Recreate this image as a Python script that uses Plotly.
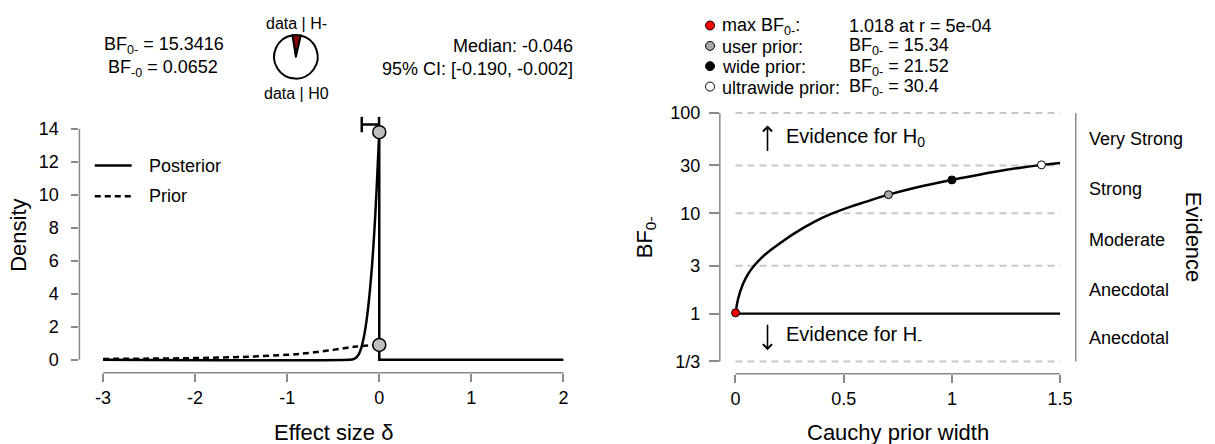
import math
import plotly.graph_objects as go

W, H = 1215, 444
FONT = "Liberation Sans"
AXC = "#8a8a8a"

# ---------------- data ----------------
# left panel: prior / posterior densities of effect size delta
prior_delta = [-3, -2.5, -2, -1.5, -1, -0.75, -0.5, -0.25, 0]
prior_density = [0.05, 0.07, 0.10, 0.17, 0.30, 0.42, 0.60, 0.80, 0.90]
post_delta = [-3, -0.32, -0.28, -0.25, -0.22, -0.2, -0.18, -0.16, -0.14, -0.12,
              -0.10, -0.08, -0.06, -0.045, -0.03, -0.015, 0, 0, 2]
post_density = [0, 0, 0.04, 0.14, 0.36, 0.64, 1.05, 1.6, 2.3, 3.2,
                4.3, 5.6, 7.2, 8.6, 10.2, 12.0, 13.8, 0, 0]
point_delta = [0, 0]
point_density = [13.8, 0.9]
ci_low, ci_high = -0.190, -0.002
ci_level = 14.26
median = -0.046
bf0m = 15.3416
bfm0 = 0.0652
left_xticks = [-3, -2, -1, 0, 1, 2]
left_xticktext = ["-3", "-2", "-1", "0", "1", "2"]
left_yticks = [0, 2, 4, 6, 8, 10, 12, 14]

# right panel: robustness check
r_vals = [0, 0.012, 0.035, 0.058, 0.089, 0.12, 0.166, 0.212, 0.274, 0.366, 0.442,
          0.519, 0.6, 0.707, 0.85, 1.0, 1.2, 1.414, 1.5]
bf_vals = [1.0, 1.40, 1.98, 2.48, 3.05, 3.6, 4.35, 5.15, 6.35, 8.25, 9.85,
           11.4, 13.0, 15.34, 18.4, 21.52, 26.0, 30.4, 31.8]
key_r = [0.0005, 0.7071, 1.0, 1.4142]
key_bf = [1.018, 15.34, 21.52, 30.4]
key_colors = ["red", "#a8a8a8", "black", "white"]
key_names = ["max BF<sub>0-</sub>:", "user prior:", "wide prior:", "ultrawide prior:"]
key_texts = ["1.018 at r = 5e-04", "BF<sub>0-</sub> = 15.34",
             "BF<sub>0-</sub> = 21.52", "BF<sub>0-</sub> = 30.4"]
bf_ticks = [1 / 3, 1, 3, 10, 30, 100]
bf_ticktext = ["1/3", "1", "3", "10", "30", "100"]
evidence_labels = ["Anecdotal", "Anecdotal", "Moderate", "Strong", "Very Strong"]
right_xticks = [0, 0.5, 1, 1.5]
right_xticktext = ["0", "0.5", "1", "1.5"]


# ---------------- layout helpers (pixel geometry) ----------------
def px(p):
    return p / W


def py(p):
    return 1 - p / H


def lin_range(p_lo, p_hi, va, pa, vb, pb):
    k = (pb - pa) / (vb - va)
    return [va + (p_lo - pa) / k, va + (p_hi - pa) / k]


# left panel geometry
LX0, LX1 = 79.6, 567.0
LY_TOP, LY_BOT = 110.0, 372.0
lx_range = lin_range(LX0, LX1, -3, 103.3, 2, 564.8)
ly_range = lin_range(LY_BOT, LY_TOP, 0, 359.0, 14, 126.0)

# right panel geometry
RX0, RX1 = 721.6, 1078.4
RY_TOP, RY_BOT = 104.0, 373.0
rx_range = lin_range(RX0, RX1, 0, 737.3, 1.5, 1062.7)
ry_range = lin_range(RY_BOT, RY_TOP, 2, 110.0, math.log10(1 / 3), 360.7)


def ry_px(v):
    k = (360.7 - 110.0) / (math.log10(1 / 3) - 2)
    return 110.0 + (math.log10(v) - 2) * k


fig = go.Figure()

# ---- left traces ----
fig.add_trace(go.Scatter(x=prior_delta, y=prior_density, mode="lines",
                         line=dict(color="black", width=2.5, dash="6px,4px", shape="spline"),
                         xaxis="x", yaxis="y", hoverinfo="skip", showlegend=False))
n_rise = len(post_delta) - 2
fig.add_trace(go.Scatter(x=post_delta[:n_rise], y=post_density[:n_rise], mode="lines",
                         line=dict(color="black", width=2.5, shape="spline", smoothing=0.6),
                         xaxis="x", yaxis="y", hoverinfo="skip", showlegend=False))
fig.add_trace(go.Scatter(x=post_delta[n_rise - 1:], y=post_density[n_rise - 1:], mode="lines",
                         line=dict(color="black", width=2.5),
                         xaxis="x", yaxis="y", hoverinfo="skip", showlegend=False))
fig.add_trace(go.Scatter(x=[ci_low, ci_high], y=[ci_level, ci_level], mode="lines+markers",
                         line=dict(color="black", width=2.5),
                         marker=dict(symbol="line-ns-open", size=11,
                                     line=dict(color="black", width=2.5)),
                         xaxis="x", yaxis="y", cliponaxis=False, hoverinfo="skip",
                         showlegend=False))
fig.add_trace(go.Scatter(x=point_delta, y=point_density, mode="markers",
                         marker=dict(size=13, color="#bfbfbf",
                                     line=dict(color="black", width=1.5)),
                         xaxis="x", yaxis="y", cliponaxis=False, hoverinfo="skip",
                         showlegend=False))

# ---- right traces ----
for v in bf_ticks:
    if v == 1:
        continue
    fig.add_trace(go.Scatter(x=[right_xticks[0], right_xticks[-1]], y=[v, v], mode="lines",
                             line=dict(color="#c8c8c8", width=2, dash="7px,5px"),
                             xaxis="x2", yaxis="y2", hoverinfo="skip", showlegend=False))
fig.add_trace(go.Scatter(x=[right_xticks[0], right_xticks[-1]], y=[1, 1], mode="lines",
                         line=dict(color="black", width=2.2),
                         xaxis="x2", yaxis="y2", hoverinfo="skip", showlegend=False))
fig.add_trace(go.Scatter(x=r_vals, y=bf_vals, mode="lines",
                         line=dict(color="black", width=2.5, shape="spline", smoothing=1.2),
                         xaxis="x2", yaxis="y2", hoverinfo="skip", showlegend=False))
fig.add_trace(go.Scatter(x=key_r, y=key_bf, mode="markers",
                         marker=dict(size=8, color=key_colors,
                                     line=dict(color="black", width=1)),
                         xaxis="x2", yaxis="y2", cliponaxis=False, hoverinfo="skip",
                         showlegend=False))

# ---- pie ----
fig.add_trace(go.Pie(values=[bfm0, 1], labels=["data | H-", "data | H0"],
                     marker=dict(colors=["#8b0000", "white"],
                                 line=dict(color="black", width=2)),
                     sort=False, direction="clockwise", rotation=-9,
                     textinfo="none", hoverinfo="skip", showlegend=False,
                     domain=dict(x=[px(274.6), px(318.6)], y=[py(75.3), py(31.3)])))

tickfont = dict(family=FONT, size=18, color="black")
common = dict(showgrid=False, zeroline=False, showline=False, ticks="outside",
              tickcolor=AXC, tickwidth=1.5, tickfont=tickfont, fixedrange=True)

layout = dict(
    width=W, height=H, margin=dict(l=0, r=0, t=0, b=0),
    paper_bgcolor="white", plot_bgcolor="white",
    xaxis=dict(domain=[px(LX0), px(LX1)], range=lx_range, anchor="y",
               tickvals=left_xticks, ticktext=left_xticktext, ticklen=8,
               ticklabelstandoff=1, **common),
    yaxis=dict(domain=[py(LY_BOT), py(LY_TOP)], range=ly_range, anchor="x",
               tickvals=left_yticks, ticklen=7, ticklabelstandoff=9, **common),
    xaxis2=dict(domain=[px(RX0), px(RX1)], range=rx_range, anchor="y2",
                tickvals=right_xticks, ticktext=right_xticktext, ticklen=8,
                ticklabelstandoff=1, **common),
    yaxis2=dict(domain=[py(RY_BOT), py(RY_TOP)], range=ry_range, type="log", anchor="x2",
                tickvals=bf_ticks, ticktext=bf_ticktext, ticklen=10,
                ticklabelstandoff=5, **common),
    yaxis3=dict(domain=[py(RY_BOT), py(RY_TOP)], range=ry_range, type="log", anchor="x2",
                overlaying="y2", side="right", tickvals=bf_ticks, showticklabels=False,
                ticklen=10, **common),
)

shapes = []
# detached axis lines (R style)
shapes.append(dict(type="line", xref="x", yref="paper", x0=left_xticks[0], x1=left_xticks[-1],
                   y0=py(LY_BOT), y1=py(LY_BOT), line=dict(color=AXC, width=1.5)))
shapes.append(dict(type="line", xref="paper", yref="y", x0=px(LX0), x1=px(LX0),
                   y0=left_yticks[0], y1=left_yticks[-1], line=dict(color=AXC, width=1.5)))
shapes.append(dict(type="line", xref="x2", yref="paper", x0=right_xticks[0], x1=right_xticks[-1],
                   y0=py(RY_BOT), y1=py(RY_BOT), line=dict(color=AXC, width=1.5)))
for xx in (RX0, RX1):
    shapes.append(dict(type="line", xref="paper", yref="paper", x0=px(xx), x1=px(xx),
                       y0=py(ry_px(bf_ticks[0])), y1=py(ry_px(bf_ticks[-1])),
                       line=dict(color=AXC, width=1.5)))
# left legend samples
shapes.append(dict(type="line", xref="paper", yref="paper", x0=px(95), x1=px(132),
                   y0=py(163), y1=py(163), line=dict(color="black", width=2.5)))
shapes.append(dict(type="line", xref="paper", yref="paper", x0=px(95), x1=px(132),
                   y0=py(194), y1=py(194), line=dict(color="black", width=2.5, dash="6px,4px")))
# right legend circles
leg_y = [21.7, 42.3, 62.7, 83.3]
for c, yy in zip(key_colors, leg_y):
    shapes.append(dict(type="circle", xref="paper", yref="paper", xsizemode="pixel",
                       ysizemode="pixel", xanchor=px(711.8), yanchor=py(yy),
                       x0=-4.5, x1=4.5, y0=-4.5, y1=4.5, fillcolor=c,
                       line=dict(color="black", width=1)))
layout["shapes"] = shapes

ann = []


def text(t, x, y, size=18, xanchor="center", yanchor="middle", angle=0):
    ann.append(dict(text=t, x=px(x), y=py(y), xref="paper", yref="paper",
                    xanchor=xanchor, yanchor=yanchor, textangle=angle, showarrow=False,
                    font=dict(family=FONT, size=size, color="black")))


# left panel texts
text(f"BF<sub>0-</sub> = {bf0m:.4f}", 164, 41.7)
text(f"BF<sub>-0</sub> = {bfm0:.4f}", 163.6, 65)
text("data | H-", 297.5, 20, size=16)
text("data | H0", 297.5, 90.7, size=16)
text(f"Median: {median:.3f}", 576, 42.7, xanchor="right")
text(f"95% CI: [{ci_low:.3f}, {ci_high:.3f}]", 576, 65.3, xanchor="right")
text("Posterior", 147, 163, xanchor="left")
text("Prior", 147, 194, xanchor="left")
text("Density", 19, 233, size=22, angle=-90)
text("Effect size δ", 334, 432, size=22)

# right panel texts
for name, t, yy in zip(key_names, key_texts, leg_y):
    text(name, 722, yy + 1, xanchor="left")
    text(t, 849, yy + 1, xanchor="left")
text("BF<sub>0-</sub>", 647, 235, size=22, angle=-90)
text("Cauchy prior width", 900, 432, size=22)
text("Evidence", 1196, 235, size=22, angle=90)
for i, lab in enumerate(evidence_labels):
    mid = math.sqrt(bf_ticks[i] * bf_ticks[i + 1])
    text(lab, 1090, ry_px(mid), xanchor="left")
text("Evidence for H<sub>0</sub>", 786.3, 135, size=20, xanchor="left")
text("Evidence for H<sub>-</sub>", 786.3, 335, size=20, xanchor="left")

# arrows
ann.append(dict(x=px(769.4), y=py(122.7), xref="paper", yref="paper", ax=0, ay=27,
                showarrow=True, arrowhead=4, arrowsize=1.1, arrowwidth=1.6,
                arrowcolor="black", text="", standoff=0))
ann.append(dict(x=px(769.4), y=py(349.3), xref="paper", yref="paper", ax=0, ay=-27,
                showarrow=True, arrowhead=4, arrowsize=1.1, arrowwidth=1.6,
                arrowcolor="black", text="", standoff=0))
layout["annotations"] = ann

fig.update_layout(**layout)
fig.write_html("out.html")
